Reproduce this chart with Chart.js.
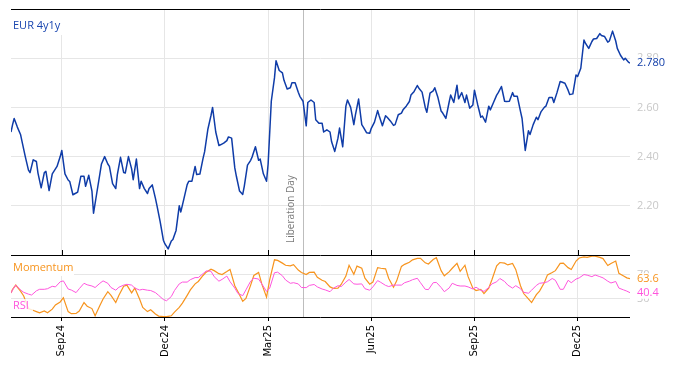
<!DOCTYPE html>
<html><head><meta charset="utf-8">
<script src="https://cdn.jsdelivr.net/npm/chart.js@4.4.1/dist/chart.umd.min.js"></script>
<style>html,body{margin:0;padding:0;background:#fff;} canvas{display:block;}</style>
</head><body>
<canvas id="c" width="674" height="366"></canvas>
<script>
// EUR 4y1y: Mon/Wed/Fri observations
const eurDates = [
'2024-07-18','2024-07-19',
'2024-07-22','2024-07-24','2024-07-26','2024-07-29','2024-07-31','2024-08-02','2024-08-05','2024-08-07','2024-08-09',
'2024-08-12','2024-08-14','2024-08-16','2024-08-19','2024-08-21','2024-08-23','2024-08-26','2024-08-28','2024-08-30',
'2024-09-02','2024-09-04','2024-09-06','2024-09-09','2024-09-11','2024-09-13','2024-09-16','2024-09-18','2024-09-20',
'2024-09-23','2024-09-25','2024-09-27','2024-09-30','2024-10-02','2024-10-04','2024-10-07','2024-10-09','2024-10-11',
'2024-10-14','2024-10-16','2024-10-18','2024-10-21','2024-10-23','2024-10-25','2024-10-28','2024-10-30','2024-11-01',
'2024-11-04','2024-11-06','2024-11-08','2024-11-11','2024-11-13','2024-11-15','2024-11-18','2024-11-20','2024-11-22',
'2024-11-25','2024-11-27','2024-11-29','2024-12-02','2024-12-04','2024-12-06','2024-12-09','2024-12-11','2024-12-13',
'2024-12-16','2024-12-18','2024-12-20','2024-12-23','2024-12-25','2024-12-27','2024-12-30','2025-01-01','2025-01-03',
'2025-01-06','2025-01-08','2025-01-10','2025-01-13','2025-01-15','2025-01-17','2025-01-20','2025-01-22','2025-01-24',
'2025-01-27','2025-01-29','2025-01-31','2025-02-03','2025-02-05','2025-02-07','2025-02-10','2025-02-12','2025-02-14',
'2025-02-17','2025-02-19','2025-02-21','2025-02-24','2025-02-26','2025-02-28','2025-03-03','2025-03-05','2025-03-07',
'2025-03-10','2025-03-12','2025-03-14','2025-03-17','2025-03-19','2025-03-21','2025-03-24','2025-03-26','2025-03-28',
'2025-03-31','2025-04-02','2025-04-04','2025-04-07','2025-04-09','2025-04-11','2025-04-14','2025-04-16','2025-04-18',
'2025-04-21','2025-04-23','2025-04-25','2025-04-28','2025-04-30','2025-05-02','2025-05-05','2025-05-07','2025-05-09',
'2025-05-12','2025-05-14','2025-05-16','2025-05-19','2025-05-21','2025-05-23','2025-05-26','2025-05-28','2025-05-30',
'2025-06-02','2025-06-04','2025-06-06','2025-06-09','2025-06-11','2025-06-13','2025-06-16','2025-06-18','2025-06-20',
'2025-06-23','2025-06-25','2025-06-27','2025-06-30','2025-07-02','2025-07-04','2025-07-07','2025-07-09','2025-07-11',
'2025-07-14','2025-07-16','2025-07-18','2025-07-21','2025-07-23','2025-07-25','2025-07-28','2025-07-30','2025-08-01',
'2025-08-04','2025-08-06','2025-08-08','2025-08-11','2025-08-13','2025-08-15','2025-08-18','2025-08-20','2025-08-22',
'2025-08-25','2025-08-27','2025-08-29','2025-09-01','2025-09-03','2025-09-05','2025-09-08','2025-09-10','2025-09-12',
'2025-09-15','2025-09-17','2025-09-19','2025-09-22','2025-09-24','2025-09-26','2025-09-29','2025-10-01','2025-10-03',
'2025-10-06','2025-10-08','2025-10-10','2025-10-13','2025-10-15','2025-10-17','2025-10-20','2025-10-22','2025-10-24',
'2025-10-27','2025-10-29','2025-10-31','2025-11-03','2025-11-05','2025-11-07','2025-11-10','2025-11-12','2025-11-14',
'2025-11-17','2025-11-19','2025-11-21','2025-11-24','2025-11-26','2025-11-28','2025-12-01','2025-12-03','2025-12-05',
'2025-12-08','2025-12-10','2025-12-12','2025-12-15','2025-12-17','2025-12-19','2025-12-22','2025-12-24','2025-12-26',
'2025-12-29','2025-12-31','2026-01-02','2026-01-05','2026-01-07','2026-01-09','2026-01-12','2026-01-14','2026-01-15'
];
const eur4y1y = [
2.50,2.53,
2.555,2.52,2.49, 2.46,2.40,2.345, 2.335,2.387,2.38,
2.333,2.273,2.335, 2.34,2.262,2.33, 2.34,2.36,2.40,
2.425,2.33,2.305, 2.299,2.245,2.252, 2.256,2.32,2.32,
2.279,2.324,2.26, 2.17,2.25,2.33, 2.37,2.40,2.37,
2.36,2.29,2.27, 2.327,2.397,2.335, 2.333,2.40,2.35,
2.306,2.39,2.27, 2.30,2.27,2.25, 2.27,2.285,2.23,
2.20,2.135,2.06, 2.045,2.025,2.057, 2.063,2.10,2.20,
2.175,2.23,2.286, 2.30,2.30,2.36, 2.327,2.329,2.393,
2.42,2.51,2.567, 2.60,2.50,2.445, 2.448,2.455,2.465,
2.48,2.475,2.354, 2.32,2.26,2.246, 2.28,2.365,2.385,
2.40,2.44,2.385, 2.39,2.33,2.30, 2.37,2.625,2.72,
2.79,2.75,2.74, 2.71,2.675,2.68, 2.70,2.70,2.662,
2.645,2.625,2.525, 2.62,2.63,2.62, 2.55,2.536,2.536,
2.50,2.509,2.50, 2.46,2.421,2.475, 2.516,2.44,2.605,
2.63,2.60,2.53, 2.57,2.634,2.53, 2.52,2.497,2.495,
2.515,2.54,2.587, 2.565,2.525,2.566, 2.56,2.545,2.527,
2.53,2.57,2.577, 2.59,2.605,2.624, 2.65,2.665,2.689,
2.678,2.662,2.60, 2.58,2.658,2.667, 2.68,2.64,2.585,
2.577,2.555,2.62, 2.65,2.62,2.69, 2.635,2.66,2.62,
2.65,2.597,2.61, 2.67,2.612,2.56, 2.565,2.54,2.605,
2.59,2.62,2.65, 2.66,2.685,2.625, 2.624,2.625,2.66,
2.645,2.645,2.584, 2.555,2.425,2.505, 2.49,2.53,2.56,
2.55,2.583,2.60, 2.605,2.64,2.64, 2.62,2.66,2.705,
2.703,2.698,2.67, 2.652,2.655,2.732, 2.726,2.759,2.874,
2.86,2.84,2.868, 2.878,2.88,2.90, 2.892,2.888,2.865,
2.87,2.91,2.87, 2.84,2.812,2.793, 2.80,2.784,2.78
];
// Momentum and RSI: Tue/Fri observations
const oscDates = [
'2024-07-18','2024-07-19','2024-07-23','2024-07-26','2024-07-30','2024-08-02','2024-08-06','2024-08-09',
'2024-08-13','2024-08-16','2024-08-20','2024-08-23','2024-08-27','2024-08-30','2024-09-03','2024-09-06',
'2024-09-10','2024-09-13','2024-09-17','2024-09-20','2024-09-24','2024-09-27','2024-10-01','2024-10-04',
'2024-10-08','2024-10-11','2024-10-15','2024-10-18','2024-10-22','2024-10-25','2024-10-29','2024-11-01',
'2024-11-05','2024-11-08','2024-11-12','2024-11-15','2024-11-19','2024-11-22','2024-11-26','2024-11-29',
'2024-12-03','2024-12-06','2024-12-10','2024-12-13','2024-12-17','2024-12-20','2024-12-24','2024-12-27',
'2024-12-31','2025-01-03','2025-01-07','2025-01-10','2025-01-14','2025-01-17','2025-01-21','2025-01-24',
'2025-01-28','2025-01-31','2025-02-04','2025-02-07','2025-02-11','2025-02-14','2025-02-18','2025-02-21',
'2025-02-25','2025-02-28','2025-03-04','2025-03-07','2025-03-11','2025-03-14','2025-03-18','2025-03-21',
'2025-03-25','2025-03-28','2025-04-01','2025-04-04','2025-04-08','2025-04-11','2025-04-15','2025-04-18',
'2025-04-22','2025-04-25','2025-04-29','2025-05-02','2025-05-06','2025-05-09','2025-05-13','2025-05-16',
'2025-05-20','2025-05-23','2025-05-27','2025-05-30','2025-06-03','2025-06-06','2025-06-10','2025-06-13',
'2025-06-17','2025-06-20','2025-06-24','2025-06-27','2025-07-01','2025-07-04','2025-07-08','2025-07-11',
'2025-07-15','2025-07-18','2025-07-22','2025-07-25','2025-07-29','2025-08-01','2025-08-05','2025-08-08',
'2025-08-12','2025-08-15','2025-08-19','2025-08-22','2025-08-26','2025-08-29','2025-09-02','2025-09-05',
'2025-09-09','2025-09-12','2025-09-16','2025-09-19','2025-09-23','2025-09-26','2025-09-30','2025-10-03',
'2025-10-07','2025-10-10','2025-10-14','2025-10-17','2025-10-21','2025-10-24','2025-10-28','2025-10-31',
'2025-11-04','2025-11-07','2025-11-11','2025-11-14','2025-11-18','2025-11-21','2025-11-25','2025-11-28',
'2025-12-02','2025-12-05','2025-12-09','2025-12-12','2025-12-16','2025-12-19','2025-12-23','2025-12-26',
'2025-12-30','2026-01-02','2026-01-06','2026-01-09','2026-01-13','2026-01-15'
];
const momentum = [
40,46, 53,43, 35,14, 12,9, 7,10, 7,13, 20,25,
32,9, 5.5,6, 10,24, 18,14, 2,19, 30,42, 36,24,
36,51, 53,40, 48,30, 16,9, 12,5, 1.5,0.5, 0.5,2,
8,16, 23,36, 45,55, 59,69, 74.5,79.5, 77,72, 70.5,75.5,
79,52, 42,26, 31,53, 69,74, 55,33, 62,95, 94,89.5,
86,85, 87,78, 74,70.5, 74,74.5, 66,61, 59,50, 47.6,48,
54,68, 86,71, 84.5,81, 64.5,54.5, 58,82, 81,80, 64,49.5,
60,84, 87.5,91, 95,97.5, 97.5,90, 88,95.5, 98.5,77, 68.5,75,
81,89, 76,86, 67,48, 44,46, 39,48, 62,85, 90.5,89.5,
86.5,89, 79,52, 39,30, 24,37, 43,57, 70,74, 77,89,
89.5,82, 79,93, 98,100, 99,101, 101,99, 97,85.5, 89,93,
72.5,68, 65,63.6
];
const rsi = [
40,45, 53,45, 41,38, 36.5,43.5, 46,46, 47,51, 50,58.5,
60,46.5, 44.8,40.5, 47,56, 53.5,51.5, 49,56, 60,56, 49,44.5,
49.5,53, 54.3,53, 48,44.8, 46,44.5, 44,40.5, 36,29, 27,34,
44,55, 58,58, 62,65.5, 65.5,72, 76.5,76, 67,59.5, 62.5,68,
58.7,48, 39,35.5, 45,59.5, 64.5,63, 55,42.5, 48,73.5, 74.5,68.5,
61.5,56, 57,55, 49,48.8, 52.5,54, 50,46.5, 45,42, 47.5,52,
50.5,58, 62.3,55, 54.5,55, 47,44.5, 50,60.5, 57.5,52.5, 50.6,53,
53,53, 57,59.5, 62,64.3, 57,46, 45.5,57, 57.5,49, 42,48,
56,52.5, 51.5,51.5, 50,46.5, 49.5,44.5, 42.5,49, 55,58.5, 64,59,
53,48, 52,47, 41,39.5, 44.5,52.5, 56,57, 58.5,64, 61,46,
46,61, 57,63, 65,70.5, 69.5,67, 69.8,67, 65,59.5, 56.5,59,
48,45, 43,40.4
];
const tickDates = ['2024-09-01','2024-12-01','2025-03-01','2025-06-01','2025-09-01','2025-12-01'];
const tickLabels = ['Sep24','Dec24','Mar25','Jun25','Sep25','Dec25'];
const eurTicks = [2.2, 2.4, 2.6, 2.8];
const oscTicks = [30, 70];
const eventDate = '2025-04-02';
const eventLabel = 'Liberation Day';
const seriesNames = ['EUR 4y1y', 'Momentum', 'RSI'];

// business-day index relative to Monday 2024-09-02
function bday(s){
  const d = Date.UTC(+s.slice(0,4), +s.slice(5,7)-1, +s.slice(8,10));
  const days = Math.round((d - Date.UTC(2024,8,2)) / 864e5);
  const w = Math.floor(days/7), r = days - 7*w;
  return w*5 + Math.min(r,5);
}
const pts = (ds, arr) => arr.map((v,i)=>({x:bday(ds[i]), y:v}));
const xMin = bday(eurDates[0]), xMax = bday(eurDates[eurDates.length-1]);

const FONT = "'Open Sans', sans-serif";
const C_EUR = '#0f3ca8', C_MOM = '#f7941e', C_RSI = '#ff55dd', C_GRID = '#e6e6e6';

function box(ctx, c, x0, y0, x1, y1){ ctx.fillStyle = c; ctx.fillRect(x0, y0, x1-x0, y1-y0); }
function text(ctx, t, x, yc, color, font){
  ctx.font = font; ctx.fillStyle = color; ctx.textAlign='left'; ctx.textBaseline='middle';
  ctx.fillText(t, x, yc);
}

const overlay = {
  id:'overlay',
  beforeDatasetsDraw(chart){
    const {ctx, chartArea:a, scales:{x}} = chart;
    const px = Math.round(x.getPixelForValue(bday(eventDate))) + 0.5;
    ctx.save();
    ctx.strokeStyle = '#bdbdbd'; ctx.lineWidth = 1;
    ctx.beginPath(); ctx.moveTo(px, a.top); ctx.lineTo(px, a.bottom); ctx.stroke();
    ctx.translate(px - 12.5, chart.scales.y.bottom - 12);
    ctx.rotate(-Math.PI/2);
    ctx.font = "10px " + FONT; ctx.fillStyle = '#7a7a7a';
    ctx.textAlign = 'left'; ctx.textBaseline = 'middle';
    ctx.fillText(eventLabel, 0, 0);
    ctx.restore();
  },
  afterDatasetsDraw(chart){
    const {ctx, chartArea:a, scales:{x,y,y2}} = chart;
    ctx.save();
    const f = "11px " + FONT;
    box(ctx, '#fff', a.left, y.top, a.left+53, y.top+26);
    box(ctx, '#fff', a.left, y2.top, a.left+63, y2.top+21);
    box(ctx, 'rgba(255,255,255,0.8)', a.left, y2.top+44, a.left+22, y2.top+58);
    ctx.strokeStyle = '#000'; ctx.lineWidth = 1;
    [y.top, y.bottom, y2.bottom].forEach(v=>{
      const p = Math.round(v) + 0.5;
      ctx.beginPath(); ctx.moveTo(a.left, p); ctx.lineTo(a.right, p); ctx.stroke();
    });
    tickDates.forEach(d=>{
      const p = Math.round(x.getPixelForValue(bday(d))) + 0.5;
      ctx.beginPath(); ctx.moveTo(p, y.bottom - 5); ctx.lineTo(p, y.bottom); ctx.stroke();
    });
    text(ctx, seriesNames[0], a.left+2, y.top+17, '#1a46b0', f);
    text(ctx, seriesNames[1], a.left+2, y2.top+12.5, C_MOM, f);
    text(ctx, seriesNames[2], a.left+2, y2.top+51, C_RSI, f);
    const lx = a.right + 7;
    const lastE = eur4y1y[eur4y1y.length-1], lastM = momentum[momentum.length-1], lastR = rsi[rsi.length-1];
    [[lastE.toFixed(3), y.getPixelForValue(lastE), C_EUR],
     [lastM.toFixed(1), y2.getPixelForValue(lastM), C_MOM],
     [lastR.toFixed(1), y2.getPixelForValue(lastR), C_RSI]].forEach(([t,yc,c])=>{
      ctx.font = f;
      const w = ctx.measureText(t).width;
      box(ctx, '#fff', lx-1, yc-5.5, lx+w+1, yc+6);
      text(ctx, t, lx, yc, c, f);
    });
    ctx.restore();
  }
};

const noPad = s => { s.paddingTop = 0; s.paddingBottom = 0; s.width = 44; };

new Chart(document.getElementById('c'), {
  type:'line',
  data:{datasets:[
    {label:seriesNames[0], data:pts(eurDates, eur4y1y), yAxisID:'y', borderColor:C_EUR, borderWidth:1.5, pointRadius:0, tension:0, borderJoinStyle:'round'},
    {label:seriesNames[2], data:pts(oscDates, rsi), yAxisID:'y2', borderColor:C_RSI, borderWidth:1, pointRadius:0, tension:0},
    {label:seriesNames[1], data:pts(oscDates, momentum), yAxisID:'y2', borderColor:C_MOM, borderWidth:1.2, pointRadius:0, tension:0}
  ]},
  options:{
    responsive:false, animation:false, devicePixelRatio:1,
    layout:{padding:{left:11, top:9, right:0, bottom:0}},
    plugins:{legend:{display:false}, tooltip:{enabled:false}},
    scales:{
      x:{type:'linear', min:xMin, max:xMax,
        afterBuildTicks:s=>{ s.ticks = tickDates.map(d=>({value:bday(d)})); },
        afterFit:s=>{ s.height = 49; s.paddingLeft = 0; s.paddingRight = 0; },
        grid:{color:C_GRID, tickColor:'#000', tickLength:4, drawTicks:true},
        border:{display:false},
        ticks:{autoSkip:false, minRotation:90, maxRotation:90, padding:4, color:'#000',
          font:{family:"'DejaVu Sans'", size:10},
          callback:v=>{ const i = tickDates.findIndex(d=>bday(d)===v); return i>=0 ? tickLabels[i] : ''; }}
      },
      y:{type:'linear', position:'right', stack:'panels', stackWeight:246, min:2.0, max:3.0,
        afterBuildTicks:s=>{ s.ticks = eurTicks.map(v=>({value:v})); },
        afterFit:noPad,
        grid:{color:C_GRID, drawTicks:false}, border:{display:false},
        ticks:{padding:7, color:'#c8c8c8', font:{family:FONT, size:11}, callback:v=>Number(v).toFixed(2)}
      },
      y2:{type:'linear', position:'right', stack:'panels', stackWeight:62, min:0, max:103,
        afterBuildTicks:s=>{ s.ticks = oscTicks.map(v=>({value:v})); },
        afterFit:noPad,
        grid:{color:C_GRID, drawTicks:false}, border:{display:false},
        ticks:{padding:7, color:'#c8c8c8', font:{family:FONT, size:11}, callback:v=>String(v)}
      }
    }
  },
  plugins:[overlay]
});
</script>
</body></html>
